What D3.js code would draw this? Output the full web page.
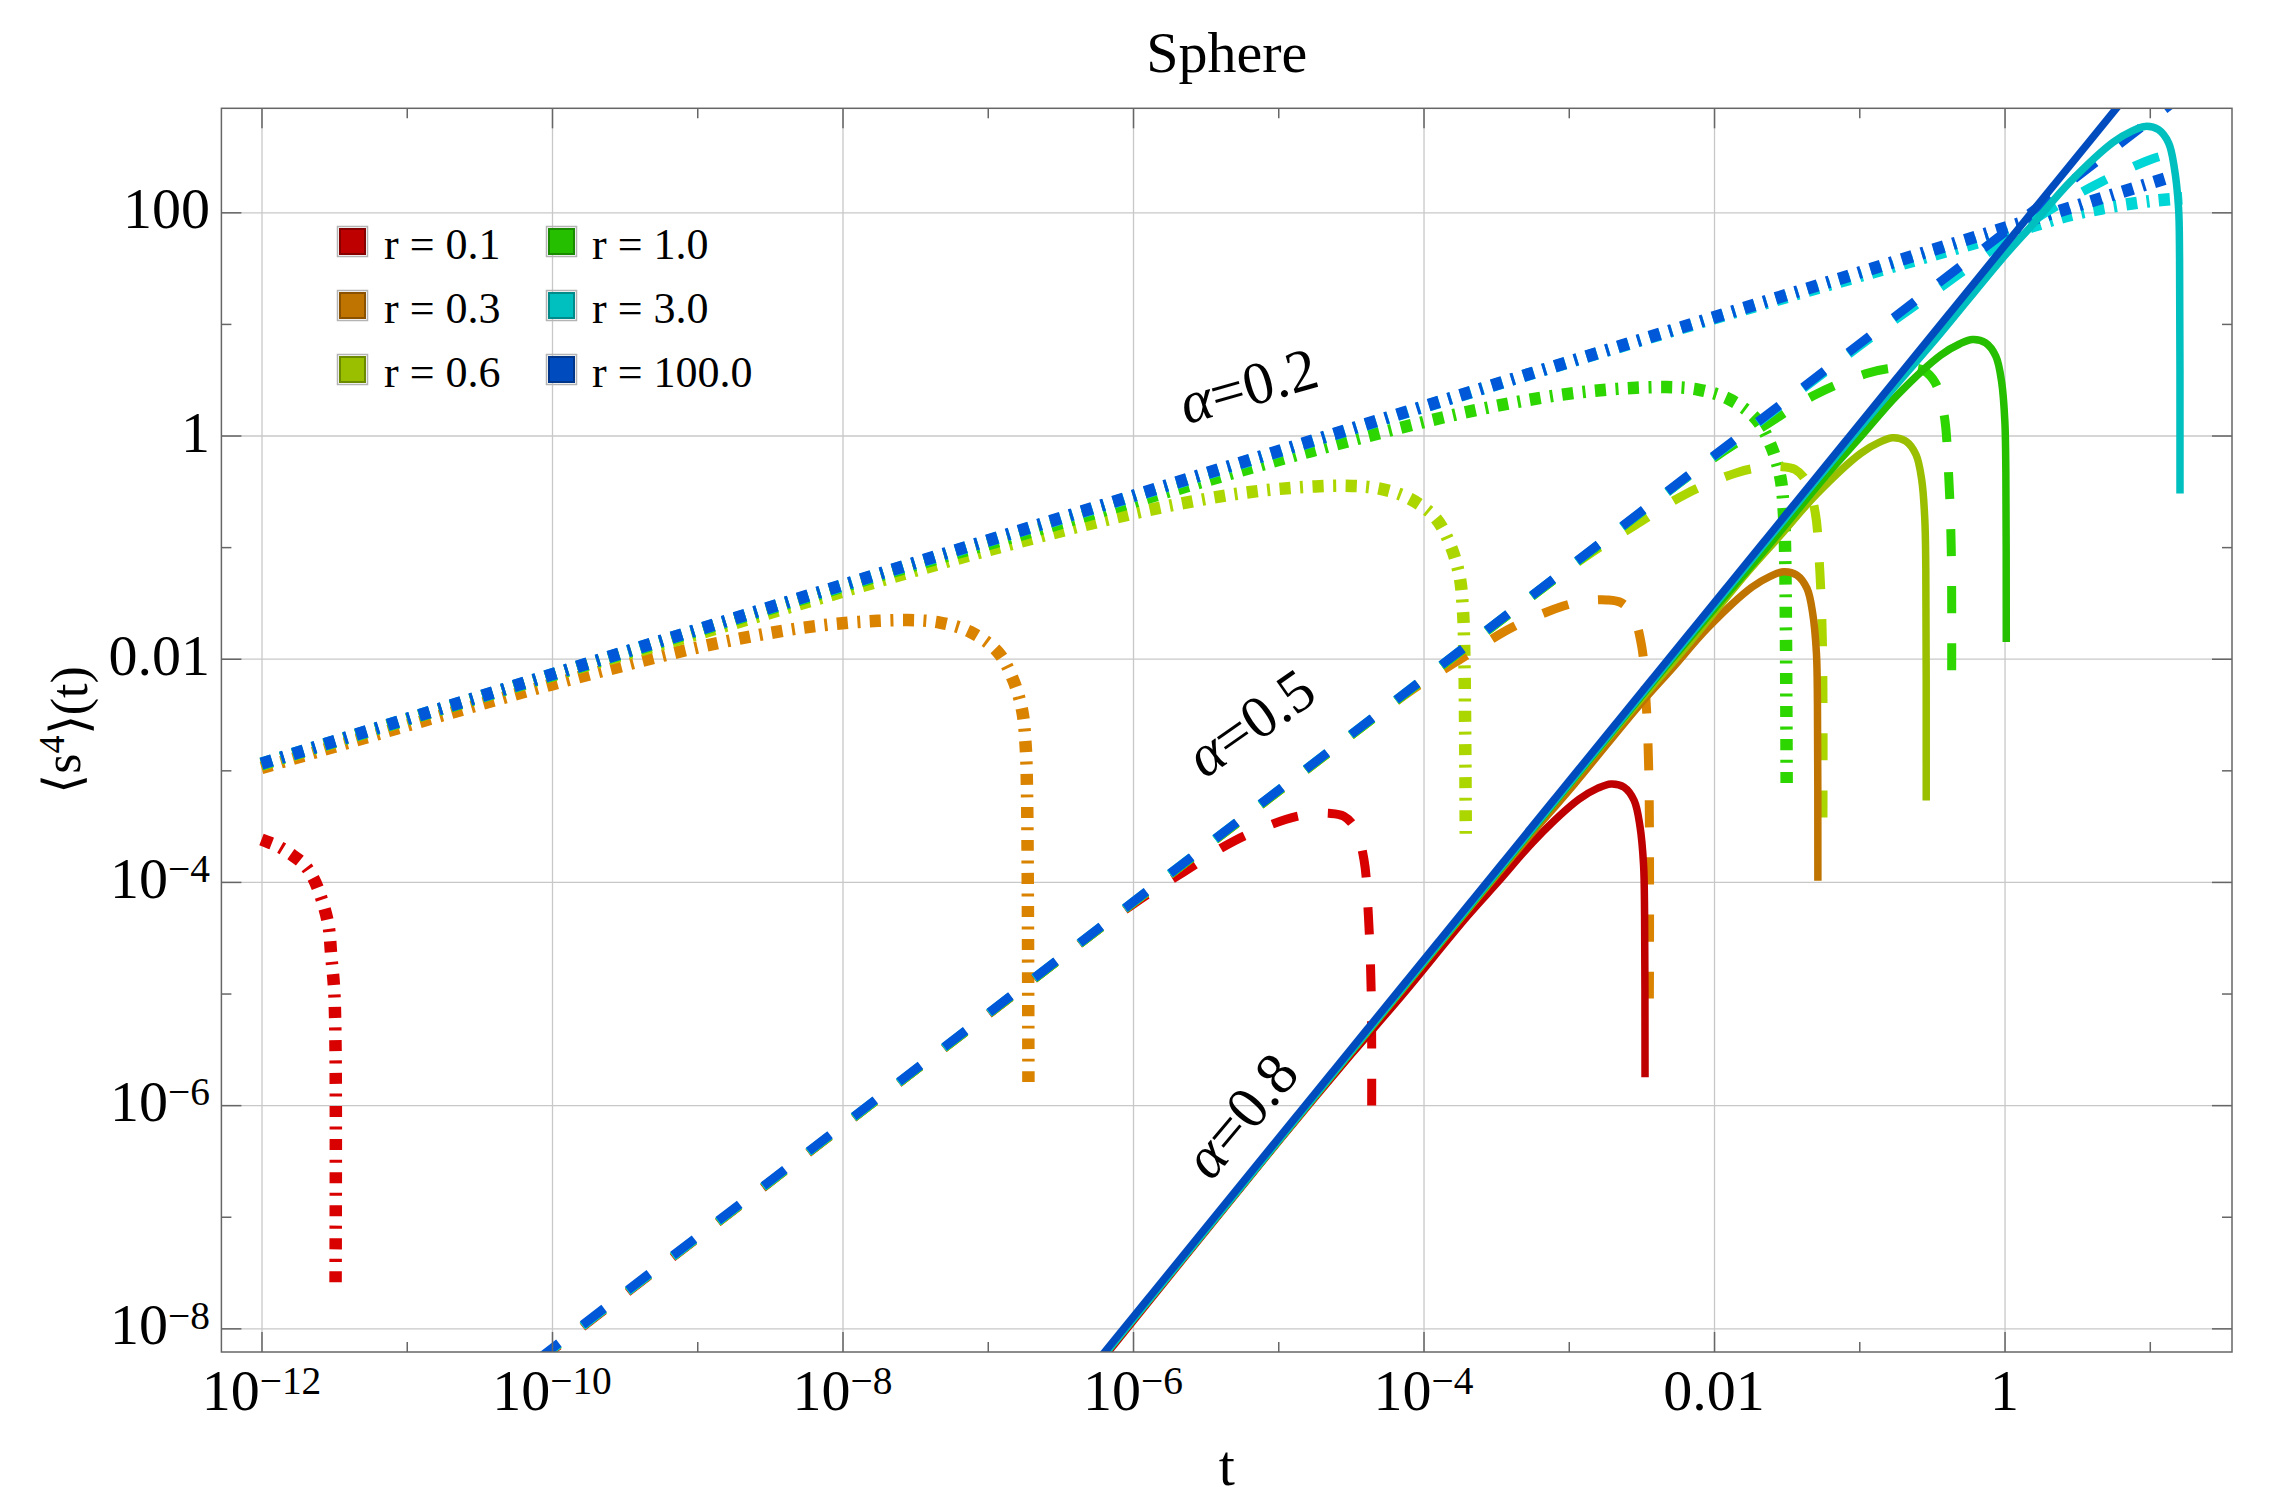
<!DOCTYPE html>
<html>
<head>
<meta charset="utf-8">
<script src="https://cdn.jsdelivr.net/npm/d3@7"></script>
<style>
  body { margin: 0; background: #fff; }
  text { font-family: "Liberation Serif", "Times New Roman", serif; fill: #000; }
</style>
</head>
<body>
<svg id="chart"></svg>
<script>
// values are log10(t), log10(<s^4>)

// alpha = 0.2 (dot-dashed)
const a2_r01 = [[-12,-3.62],[-11.94,-3.65],[-11.885,-3.68],[-11.8,-3.75],[-11.71,-3.84],[-11.65,-3.95],[-11.6,-4.1],[-11.54,-4.38],[-11.52,-4.66],[-11.5,-4.96],[-11.49,-5.52],[-11.49,-7.62]];
const a2_r03 = [[-12,-2.98],[-11,-2.6],[-10,-2.23],[-9,-1.9],[-8.5,-1.77],[-8.2,-1.71],[-7.886,-1.67],[-7.548,-1.654],[-7.33,-1.676],[-7.12,-1.76],[-6.93,-1.94],[-6.825,-2.19],[-6.763,-2.465],[-6.74,-2.76],[-6.73,-3.17],[-6.72,-5.82]];
const a2_r06 = [[-12,-2.95],[-10,-2.15],[-8.99,-1.776],[-7.99,-1.396],[-6.99,-1.026],[-5.99,-0.696],[-5.49,-0.566],[-5.19,-0.506],[-4.875,-0.466],[-4.537,-0.45],[-4.319,-0.472],[-4.109,-0.556],[-3.919,-0.736],[-3.814,-0.986],[-3.752,-1.261],[-3.729,-1.556],[-3.719,-1.966],[-3.709,-3.578]];
const a2_r1 = [[-12,-2.945],[-9,-1.75],[-7.5,-1.16],[-6.78,-0.892],[-5.78,-0.512],[-4.78,-0.142],[-3.78,0.188],[-3.28,0.318],[-2.98,0.378],[-2.666,0.418],[-2.328,0.434],[-2.11,0.412],[-1.9,0.328],[-1.71,0.148],[-1.605,-0.102],[-1.543,-0.377],[-1.52,-0.672],[-1.51,-1.082],[-1.5,-3.12]];
const a2_r3 = [[-12,-2.94],[-6,-0.545],[-2,1.05],[0,1.8],[0.5,1.99],[1,2.1],[1.28,2.13]];
const a2_r100 = [[-12,-2.94],[1.24,2.356]];

// alpha = 0.5 (dashed)
const a5_r01 = [[-10.1,-8.3],[-7,-5.19],[-6,-4.2],[-5.65,-3.91],[-5.3,-3.63],[-4.95,-3.44],[-4.8,-3.395],[-4.65,-3.385],[-4.55,-3.41],[-4.47,-3.52],[-4.41,-3.8],[-4.38,-4.29],[-4.36,-5],[-4.357,-6.04]];
const a5_r03 = [[-10.1,-8.29],[-5.088,-3.278],[-4.088,-2.288],[-3.738,-1.998],[-3.388,-1.718],[-3.038,-1.528],[-2.888,-1.483],[-2.738,-1.473],[-2.638,-1.498],[-2.558,-1.608],[-2.498,-1.888],[-2.468,-2.378],[-2.448,-3.088],[-2.445,-5.06]];
const a5_r06 = [[-10.1,-8.29],[-3.893,-2.083],[-2.893,-1.093],[-2.543,-0.803],[-2.193,-0.523],[-1.843,-0.333],[-1.693,-0.288],[-1.543,-0.278],[-1.443,-0.303],[-1.363,-0.413],[-1.303,-0.693],[-1.273,-1.183],[-1.253,-1.893],[-1.25,-3.5]];
const a5_r1 = [[-10.1,-8.29],[-3.007,-1.197],[-2.007,-0.207],[-1.657,0.083],[-1.307,0.363],[-0.957,0.553],[-0.807,0.598],[-0.657,0.608],[-0.557,0.583],[-0.477,0.473],[-0.417,0.193],[-0.387,-0.297],[-0.367,-1.007],[-0.364,-2.17]];
const a5_r3 = [[-10.1,-8.29],[-1,0.8],[-0.33,1.43],[0.2,1.93],[0.67,2.275],[1.02,2.48],[1.13,2.52]];
const a5_r100 = [[-10.1,-8.28],[1.2,3.02]];

// alpha = 0.8 (solid)
const a8_r01 = [[-6.25,-8.34],[-5,-6.33],[-4.5,-5.55],[-4.15,-5.02],[-3.7,-4.31],[-3.48,-3.99],[-3.23,-3.62],[-2.93,-3.26],[-2.8,-3.16],[-2.71,-3.122],[-2.62,-3.15],[-2.55,-3.27],[-2.51,-3.5],[-2.485,-3.85],[-2.478,-4.3],[-2.475,-5.75]];
const a8_r03 = [[-6.25,-8.32],[-3.81,-4.43],[-3.31,-3.65],[-2.96,-3.12],[-2.51,-2.41],[-2.29,-2.09],[-2.04,-1.72],[-1.74,-1.36],[-1.61,-1.26],[-1.52,-1.22],[-1.43,-1.25],[-1.36,-1.37],[-1.32,-1.6],[-1.295,-1.95],[-1.288,-2.4],[-1.285,-3.99]];
const a8_r06 = [[-6.25,-8.32],[-3.06,-3.23],[-2.56,-2.45],[-2.21,-1.92],[-1.76,-1.21],[-1.54,-0.89],[-1.29,-0.52],[-0.99,-0.16],[-0.86,-0.06],[-0.77,-0.02],[-0.68,-0.05],[-0.61,-0.17],[-0.57,-0.4],[-0.549,-0.75],[-0.542,-1.2],[-0.539,-3.27]];
const a8_r1 = [[-6.25,-8.32],[-2.51,-2.35],[-2.01,-1.57],[-1.66,-1.04],[-1.21,-0.33],[-0.99,-0.01],[-0.74,0.36],[-0.44,0.72],[-0.31,0.82],[-0.22,0.86],[-0.13,0.83],[-0.06,0.71],[-0.02,0.48],[0.002,0.13],[0.009,-0.32],[0.012,-1.85]];
const a8_r3 = [[-6.25,-8.32],[-1.32,-0.44],[-0.82,0.34],[-0.47,0.87],[-0.02,1.58],[0.2,1.9],[0.45,2.27],[0.75,2.63],[0.88,2.73],[0.97,2.77],[1.06,2.74],[1.13,2.62],[1.17,2.39],[1.198,2.04],[1.205,1.59],[1.208,-0.52]];
const a8_r100 = [[-6.25,-8.3],[0.85,3.06]];

const legendLabels = ["r = 0.1", "r = 0.3", "r = 0.6", "r = 1.0", "r = 3.0", "r = 100.0"];
const alphaLabels = ["0.2", "0.5", "0.8"];

const xMajor = [-12, -10, -8, -6, -4, -2, 0];
const xMinor = [-11, -9, -7, -5, -3, -1, 1];
const xTickLabels = [["10", "\u221212"], ["10", "\u221210"], ["10", "\u22128"], ["10", "\u22126"], ["10", "\u22124"], ["0.01", ""], ["1", ""]];
const yMajor = [2, 0, -2, -4, -6, -8];
const yMinor = [1, -1, -3, -5, -7];
const yTickLabels = [["100", ""], ["1", ""], ["0.01", ""], ["10", "\u22124"], ["10", "\u22126"], ["10", "\u22128"]];

// styles
const solidColors = ["#bf0000", "#bf7300", "#99bf00", "#26bf00", "#00bfbf", "#004cbf"];
const brightColors = ["#d90000", "#d98300", "#acd600", "#2dd600", "#00d6d6", "#0058d8"];
const swatchStroke = ["#870000", "#8a5200", "#6c8a00", "#1a8a00", "#008a8a", "#00368a"];

const width = 2277, height = 1510;
const margin = { top: 108.3, right: 45, bottom: 158, left: 221.4 };
const font = 58;

const svg = d3.select("#chart").attr("width", width).attr("height", height);

const x = d3.scaleLog()
  .domain([10 ** -12.276, 10 ** 1.566])
  .range([margin.left, width - margin.right]);
const y = d3.scaleLog()
  .domain([10 ** -8.212, 10 ** 2.932])
  .range([height - margin.bottom, margin.top]);

const x0 = margin.left, x1 = width - margin.right;
const y0 = height - margin.bottom, y1 = margin.top;
const pw = x1 - x0, ph = y0 - y1;

// grid
svg.append("g")
  .attr("transform", `translate(0,${y0})`)
  .call(d3.axisBottom(x).tickValues(xMajor.map(e => 10 ** e)).tickSize(-ph).tickFormat(""))
  .call(g => g.select(".domain").remove())
  .selectAll("line").attr("stroke", "#c8c8c8").attr("stroke-width", 1.3);
svg.append("g")
  .attr("transform", `translate(${x0},0)`)
  .call(d3.axisLeft(y).tickValues(yMajor.map(e => 10 ** e)).tickSize(-pw).tickFormat(""))
  .call(g => g.select(".domain").remove())
  .selectAll("line").attr("stroke", "#c8c8c8").attr("stroke-width", 1.3);

// curves
const clip = svg.append("clipPath").attr("id", "plotClip")
  .append("rect").attr("x", x0).attr("y", y1).attr("width", pw).attr("height", ph);

const line = d3.line()
  .x(d => x(10 ** d[0]))
  .y(d => y(10 ** d[1]))
  .curve(d3.curveCatmullRom.alpha(0.5));

const families = [
  { data: [a2_r01, a2_r03, a2_r06, a2_r1, a2_r3, a2_r100], colors: brightColors, width: 12.5, dash: "11,9.5,3,9.5" },
  { data: [a5_r01, a5_r03, a5_r06, a5_r1, a5_r3, a5_r100], colors: brightColors, width: 9, dash: "27,30" },
  { data: [a8_r01, a8_r03, a8_r06, a8_r1, a8_r3, a8_r100], colors: solidColors, width: 7.5, dash: null }
];

const plot = svg.append("g").attr("clip-path", "url(#plotClip)");
families.forEach(f => {
  plot.append("g").selectAll("path")
    .data(f.data)
    .join("path")
    .attr("d", line)
    .attr("fill", "none")
    .attr("stroke", (d, i) => f.colors[i])
    .attr("stroke-width", f.width)
    .attr("stroke-dasharray", f.dash)
    .attr("stroke-linecap", "butt")
    .attr("stroke-linejoin", "round");
});

// frame + ticks
const tickColor = "#666";
const styleTicks = g => {
  g.select(".domain").remove();
  g.selectAll("line").attr("stroke", tickColor).attr("stroke-width", 1.5);
};
[[xMajor, 20], [xMinor, 10]].forEach(([vals, len]) => {
  const tv = vals.map(e => 10 ** e);
  svg.append("g").attr("transform", `translate(0,${y0})`)
    .call(d3.axisBottom(x).tickValues(tv).tickSize(-len).tickFormat("")).call(styleTicks);
  svg.append("g").attr("transform", `translate(0,${y1})`)
    .call(d3.axisTop(x).tickValues(tv).tickSize(-len).tickFormat("")).call(styleTicks);
});
[[yMajor, 20], [yMinor, 10]].forEach(([vals, len]) => {
  const tv = vals.map(e => 10 ** e);
  svg.append("g").attr("transform", `translate(${x0},0)`)
    .call(d3.axisLeft(y).tickValues(tv).tickSize(-len).tickFormat("")).call(styleTicks);
  svg.append("g").attr("transform", `translate(${x1},0)`)
    .call(d3.axisRight(y).tickValues(tv).tickSize(-len).tickFormat("")).call(styleTicks);
});
svg.append("rect")
  .attr("x", x0).attr("y", y1).attr("width", pw).attr("height", ph)
  .attr("fill", "none").attr("stroke", tickColor).attr("stroke-width", 1.5);

// tick labels (with superscripts)
const addLabel = (sel, lab) => {
  sel.append("tspan").text(lab[0]);
  if (lab[1]) {
    sel.append("tspan").attr("dy", "-0.4em").attr("font-size", "0.68em").text(lab[1]);
  }
};
xMajor.forEach((e, i) => {
  const t = svg.append("text")
    .attr("x", x(10 ** e)).attr("y", 1410)
    .attr("text-anchor", "middle").attr("font-size", font);
  addLabel(t, xTickLabels[i]);
});
yMajor.forEach((e, i) => {
  const t = svg.append("text")
    .attr("x", 210).attr("y", y(10 ** e) + 16)
    .attr("text-anchor", "end").attr("font-size", font);
  addLabel(t, yTickLabels[i]);
});

// titles
svg.append("text")
  .attr("x", (x0 + x1) / 2).attr("y", 71.5)
  .attr("text-anchor", "middle").attr("font-size", font)
  .text("Sphere");
svg.append("text")
  .attr("x", (x0 + x1) / 2).attr("y", 1485)
  .attr("text-anchor", "middle").attr("font-size", font)
  .text("t");
const yl = svg.append("text")
  .attr("transform", "translate(80,730) rotate(-90)")
  .attr("text-anchor", "middle").attr("font-size", 52);
yl.append("tspan").text("\u27E8s");
yl.append("tspan").attr("dy", "-0.45em").attr("font-size", "0.7em").text("4");
yl.append("tspan").attr("dy", "0.45em").text("\u27E9(t)");

// alpha labels along the lines
const alphaPos = [[1248, 385, -16], [1250, 722, -35], [1240, 1115, -50]];
alphaLabels.forEach((a, i) => {
  const [px, py, rot] = alphaPos[i];
  const t = svg.append("text")
    .attr("transform", `translate(${px},${py}) rotate(${rot})`)
    .attr("text-anchor", "middle").attr("dy", "0.35em")
    .attr("font-size", 60);
  t.append("tspan").attr("font-style", "italic").text("\u03B1");
  t.append("tspan").text("=" + a);
});

// legend, 3 rows x 2 columns
const legCols = [[339, 384], [548, 592]];
const legRows = [228, 292, 356];
const legend = svg.append("g");
legendLabels.forEach((lab, i) => {
  const c = Math.floor(i / 3), r = i % 3;
  const g = legend.append("g");
  g.append("rect")
    .attr("x", legCols[c][0] - 1.5).attr("y", legRows[r] - 1.5)
    .attr("width", 30).attr("height", 30)
    .attr("fill", "none").attr("stroke", "#b4b4b4").attr("stroke-width", 1.5);
  g.append("rect")
    .attr("x", legCols[c][0] + 1).attr("y", legRows[r] + 1)
    .attr("width", 25).attr("height", 25)
    .attr("fill", solidColors[i]).attr("stroke", swatchStroke[i]).attr("stroke-width", 2);
  g.append("text")
    .attr("x", legCols[c][1]).attr("y", legRows[r] + 31)
    .attr("font-size", 44)
    .text(lab);
});
</script>
</body>
</html>
